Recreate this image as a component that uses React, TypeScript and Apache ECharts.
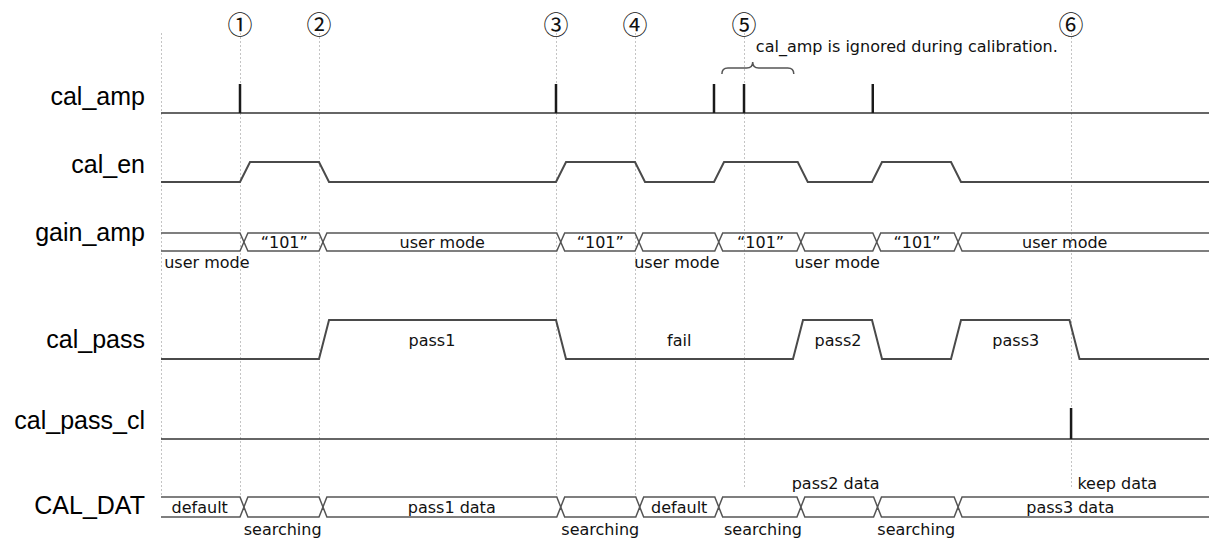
import React, { useEffect, useRef } from "react";
import * as echarts from "echarts";

// ---- time axis (arbitrary time units) ----
const T_MIN = -20.38;
const T_MAX = 132.66;
const T_START = 0;

// ---- data ----
const signalNames = ["cal_amp", "cal_en", "gain_amp", "cal_pass", "cal_pass_cl", "CAL_DAT"];
const guideTimes = [0, 10, 20, 50, 60, 73.8, 115.2];
const guideMarks = ["", "①", "②", "③", "④", "⑤", "⑥"];
const calAmpPulses = [10, 50, 70, 73.8, 90.1];
const calPassClPulses = [115.2];
const calEnEdges = [10, 20, 50, 60, 70, 80.6, 90, 100];
const calPassEdges = [20, 50, 80, 90, 100, 115];
const gainAmpCrossings = [10, 20, 50.1, 60, 70.1, 80.5, 90.1, 100.4];
const calDatCrossings = [10, 20, 50.1, 60.1, 70.1, 80.5, 90.2, 100.4];

const gainAmpInside: [number, string][] = [
  [15.6, "“101”"], [35.6, "user mode"], [55.6, "“101”"], [75.9, "“101”"], [95.7, "“101”"], [114.4, "user mode"],
];
const gainAmpBelow: [number, string][] = [[0.4, "user mode"], [59.9, "user mode"], [80.2, "user mode"]];
const calPassTexts: [number, string][] = [[34.3, "pass1"], [65.6, "fail"], [85.7, "pass2"], [108.2, "pass3"]];
const calDatInside: [number, string][] = [[4.9, "default"], [36.8, "pass1 data"], [65.6, "default"], [115.1, "pass3 data"]];
const calDatBelow: [number, string][] = [[15.4, "searching"], [55.6, "searching"], [76.2, "searching"], [95.6, "searching"]];
const calDatAbove: [number, string][] = [[85.4, "pass2 data"]];
const calDatAboveLeft: [number, string][] = [[116.0, "keep data"]];
const noteText = "cal_amp is ignored during calibration.";
const noteTime = 75.3;
const braceTimes = [71.0, 74.9, 80.1]; // start, peak, end

// ---- layout (vertical positions on the y axis, sizes) ----
const ROW = {
  cal_amp: { low: 113, high: 84, label: 96 },
  cal_en: { low: 182, high: 162, label: 164 },
  gain_amp: { top: 233, bottom: 251, label: 232, inside: 242, below: 262 },
  cal_pass: { low: 359, high: 320, label: 339, text: 340 },
  cal_pass_cl: { low: 439, high: 408, label: 420 },
  CAL_DAT: { top: 497, bottom: 517, label: 505, inside: 507, below: 529, above: 483 },
};
const NAME_T = -2.03;
const SLOPE = 1.27;
const CROSS = 1.0;
const GUIDE_TOP = 33;
const GUIDE_BOTTOM = [497, 497, 497, 497, 497, 487, 487];
const MARK_Y = 23;
const NOTE_Y = 46;
const BRACE_Y = [74, 68, 62];

const NAME_FONT = "'Liberation Sans', Arial, sans-serif";
const TEXT_FONT = "'DejaVu Sans', sans-serif";
const MARK_FONT = "'Noto Sans CJK JP', 'DejaVu Sans', sans-serif";
const WAVE_COLOR = "#4a4a4a";
const BUS_COLOR = "#555555";

function digital(edges: number[], low: number, high: number) {
  let lvl = 0;
  const y = () => (lvl ? high : low);
  const pts: number[][] = [[T_START, y()]];
  for (const e of edges) {
    pts.push([e, y()]);
    lvl = 1 - lvl;
    pts.push([e + SLOPE, y()]);
  }
  pts.push([T_MAX, y()]);
  return pts;
}

function busEdge(cross: number[], edge: number, mid: number) {
  const pts: number[][] = [[T_START, edge]];
  for (const c of cross) {
    pts.push([c, edge]);
    pts.push([c + CROSS / 2, mid]);
    pts.push([c + CROSS, edge]);
  }
  pts.push([T_MAX, edge]);
  return pts;
}

function lineSeries(data: number[][], color: string, width: number) {
  return {
    type: "line",
    data,
    symbol: "none",
    showSymbol: false,
    silent: true,
    z: 3,
    lineStyle: { color, width, cap: "butt", join: "miter" },
  };
}

type Lbl = { t: number; y: number; text: string; align: string; font: string; size: number; color: string };

export default function App() {
  const ref = useRef<HTMLDivElement>(null);

  useEffect(() => {
    document.body.style.margin = "0";
    const chart = echarts.init(ref.current!, null, { renderer: "svg" });

    const labels: Lbl[] = [];
    const add = (t: number, y: number, text: string, align = "center", font = TEXT_FONT, size = 16, color = "#111") =>
      labels.push({ t, y, text, align, font, size, color });

    const nameY = [ROW.cal_amp.label, ROW.cal_en.label, ROW.gain_amp.label, ROW.cal_pass.label, ROW.cal_pass_cl.label, ROW.CAL_DAT.label];
    signalNames.forEach((n, i) => add(NAME_T, nameY[i], n, "right", NAME_FONT, 25, "#000"));
    gainAmpInside.forEach(([t, s]) => add(t, ROW.gain_amp.inside, s));
    gainAmpBelow.forEach(([t, s]) => add(t, ROW.gain_amp.below, s, "left"));
    calPassTexts.forEach(([t, s]) => add(t, ROW.cal_pass.text, s));
    calDatInside.forEach(([t, s]) => add(t, ROW.CAL_DAT.inside, s));
    calDatBelow.forEach(([t, s]) => add(t, ROW.CAL_DAT.below, s));
    calDatAbove.forEach(([t, s]) => add(t, ROW.CAL_DAT.above, s));
    calDatAboveLeft.forEach(([t, s]) => add(t, ROW.CAL_DAT.above, s, "left"));
    add(noteTime, NOTE_Y, noteText, "left");
    guideTimes.forEach((t, i) => {
      if (guideMarks[i]) add(t, MARK_Y, guideMarks[i], "center", MARK_FONT, 25, "#111");
    });

    const pulses = [
      ...calAmpPulses.map((t) => [t, ROW.cal_amp.low, ROW.cal_amp.high]),
      ...calPassClPulses.map((t) => [t, ROW.cal_pass_cl.low, ROW.cal_pass_cl.high]),
    ];

    const option: any = {
      animation: false,
      grid: { left: 0, right: 0, top: 0, bottom: 0 },
      xAxis: { type: "value", min: T_MIN, max: T_MAX, show: false },
      yAxis: { type: "value", min: 0, max: 540, inverse: true, show: false },
      series: [
        // guide lines
        {
          type: "custom",
          silent: true,
          clip: false,
          z: 1,
          data: guideTimes.map((t, i) => [t, GUIDE_BOTTOM[i]]),
          renderItem: (params: any, api: any) => {
            const i = params.dataIndex;
            const a = api.coord([guideTimes[i], GUIDE_TOP]);
            const b = api.coord([guideTimes[i], GUIDE_BOTTOM[i]]);
            return {
              type: "line",
              shape: { x1: Math.round(a[0]) + 0.5, y1: a[1], x2: Math.round(b[0]) + 0.5, y2: b[1] },
              style: { stroke: "#c4c4c4", lineWidth: 1, lineDash: [2, 2] },
            };
          },
        },
        // waveforms
        lineSeries(digital([], ROW.cal_amp.low, ROW.cal_amp.low), "#333", 1.5),
        lineSeries(digital(calEnEdges, ROW.cal_en.low, ROW.cal_en.high), WAVE_COLOR, 2),
        lineSeries(busEdge(gainAmpCrossings, ROW.gain_amp.top, (ROW.gain_amp.top + ROW.gain_amp.bottom) / 2), BUS_COLOR, 1.5),
        lineSeries(busEdge(gainAmpCrossings, ROW.gain_amp.bottom, (ROW.gain_amp.top + ROW.gain_amp.bottom) / 2), BUS_COLOR, 1.5),
        lineSeries(digital(calPassEdges, ROW.cal_pass.low, ROW.cal_pass.high), WAVE_COLOR, 2),
        lineSeries(digital([], ROW.cal_pass_cl.low, ROW.cal_pass_cl.low), "#333", 1.5),
        lineSeries(busEdge(calDatCrossings, ROW.CAL_DAT.top, (ROW.CAL_DAT.top + ROW.CAL_DAT.bottom) / 2), BUS_COLOR, 1.5),
        lineSeries(busEdge(calDatCrossings, ROW.CAL_DAT.bottom, (ROW.CAL_DAT.top + ROW.CAL_DAT.bottom) / 2), BUS_COLOR, 1.5),
        // pulses
        {
          type: "custom",
          silent: true,
          clip: false,
          z: 4,
          data: pulses.map((p) => [p[0], p[2]]),
          renderItem: (params: any, api: any) => {
            const p = pulses[params.dataIndex];
            const a = api.coord([p[0], p[1]]);
            const b = api.coord([p[0], p[2]]);
            return {
              type: "line",
              shape: { x1: a[0], y1: a[1], x2: b[0], y2: b[1] },
              style: { stroke: "#1a1a1a", lineWidth: 2.5 },
            };
          },
        },
        // brace
        {
          type: "custom",
          silent: true,
          clip: false,
          z: 4,
          data: [[braceTimes[1], BRACE_Y[2]]],
          renderItem: (params: any, api: any) => {
            const s = api.coord([braceTimes[0], BRACE_Y[0]]);
            const m = api.coord([braceTimes[1], BRACE_Y[1]]);
            const e = api.coord([braceTimes[2], BRACE_Y[0]]);
            const top = api.coord([braceTimes[1], BRACE_Y[2]])[1];
            const ym = m[1];
            const r = 6;
            const d =
              `M${s[0]},${s[1]} Q${s[0]},${ym} ${s[0] + r},${ym} L${m[0] - r},${ym} ` +
              `Q${m[0]},${ym} ${m[0]},${top} Q${m[0]},${ym} ${m[0] + r},${ym} ` +
              `L${e[0] - r},${ym} Q${e[0]},${ym} ${e[0]},${e[1]}`;
            return {
              type: "path",
              shape: { pathData: d },
              style: { stroke: "#555", lineWidth: 1.5, fill: "none" },
            };
          },
        },
        // texts
        {
          type: "custom",
          silent: true,
          clip: false,
          z: 5,
          data: labels.map((l) => [l.t, l.y]),
          renderItem: (params: any, api: any) => {
            const l = labels[params.dataIndex];
            const p = api.coord([l.t, l.y]);
            return {
              type: "text",
              x: p[0],
              y: p[1],
              style: {
                text: l.text,
                fill: l.color,
                font: `${l.size}px ${l.font}`,
                fontSize: l.size,
                fontFamily: l.font,
                align: l.align,
                verticalAlign: "middle",
              },
            };
          },
        },
      ],
    };

    chart.setOption(option);
    return () => chart.dispose();
  }, []);

  return <div ref={ref} style={{ width: 1209, height: 540, background: "#fff" }} />;
}
